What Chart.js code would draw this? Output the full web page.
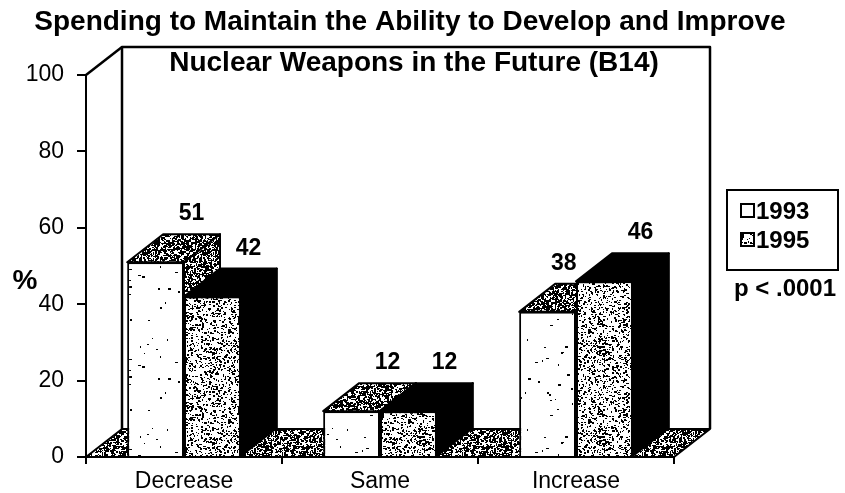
<!DOCTYPE html>
<html>
<head>
<meta charset="utf-8">
<script src="https://cdn.jsdelivr.net/npm/chart.js@4.4.1/dist/chart.umd.min.js"></script>
<style>
  html, body { margin: 0; padding: 0; background: #fff; }
  canvas { display: block; }
</style>
</head>
<body>
<canvas id="c" width="845" height="493"></canvas>
<script>
// ---- data ----
const categories = ['Decrease', 'Same', 'Increase'];
const series1993 = [51, 12, 38];
const series1995 = [42, 12, 46];
const seriesNames = ['1993', '1995'];
const yTicks = [0, 20, 40, 60, 80, 100];
const titleLines = ['Spending to Maintain the Ability to Develop and Improve',
                    'Nuclear Weapons in the Future (B14)'];
const axisTitle = '%';
const note = 'p < .0001';

// ---- look ----
const DX = 36, DY = -28;              // depth offset of the 3-D box
const FONT = '"Liberation Sans", Arial, Helvetica, sans-serif';
const canvas = document.getElementById('c');
const ctx = canvas.getContext('2d');

// small seeded generator so the stipple texture is stable between renders
function lcg(seed) {
  let s = seed >>> 0;
  return () => { s = (s * 1664525 + 1013904223) >>> 0; return s / 4294967296; };
}
function stipple(size, count, seed, maxLen) {
  const c = document.createElement('canvas');
  c.width = c.height = size;
  const g = c.getContext('2d');
  g.fillStyle = '#fff';
  g.fillRect(0, 0, size, size);
  g.fillStyle = '#000';
  const r = lcg(seed);
  for (let i = 0; i < count; i++) {
    const x = Math.floor(r() * size), y = Math.floor(r() * size);
    const w = 1 + Math.floor(r() * maxLen), h = 1 + Math.floor(r() * 1.6);
    g.fillRect(x, y, w, h);
  }
  return ctx.createPattern(c, 'repeat');
}
const patLight = stipple(90, 40, 7, 3);     // 1993 front: sparse specks
const patGray = stipple(90, 1300, 11, 2);   // 1995 front: dense grey stipple
const patDark = stipple(60, 1600, 23, 2);   // tops, sides and floor

function drawFaces(c, meta, solid) {
  c.save();
  c.lineWidth = 2;
  c.strokeStyle = '#000';
  c.lineJoin = 'round';
  meta.data.forEach(bar => {
    const p = bar.getProps(['x', 'y', 'base', 'width'], true);
    const l = p.x - p.width / 2, r = p.x + p.width / 2, t = p.y, b = p.base;
    // top face
    c.beginPath();
    c.moveTo(l, t); c.lineTo(r, t); c.lineTo(r + DX, t + DY); c.lineTo(l + DX, t + DY);
    c.closePath();
    c.fillStyle = solid ? '#000' : patDark;
    c.fill(); c.stroke();
    // side face
    c.beginPath();
    c.moveTo(r, t); c.lineTo(r + DX, t + DY); c.lineTo(r + DX, b + DY); c.lineTo(r, b);
    c.closePath();
    c.fillStyle = solid ? '#000' : patDark;
    c.fill(); c.stroke();
  });
  c.restore();
}

// 3-D box: floor, back wall, and the top/side faces of every bar
const box3d = {
  id: 'box3d',
  beforeDatasetsDraw(chart) {
    const a = chart.chartArea;
    const c = chart.ctx;
    c.save();
    c.lineWidth = 2;
    c.strokeStyle = '#000';
    c.lineJoin = 'round';
    // floor
    c.beginPath();
    c.moveTo(a.left, a.bottom);
    c.lineTo(a.right, a.bottom);
    c.lineTo(a.right + DX, a.bottom + DY);
    c.lineTo(a.left + DX, a.bottom + DY);
    c.closePath();
    c.fillStyle = patDark;
    c.fill();
    c.stroke();
    // back wall
    c.lineWidth = 2.5;
    c.beginPath();
    c.moveTo(a.left + DX, a.bottom + DY);
    c.lineTo(a.left + DX, a.top + DY);
    c.lineTo(a.right + DX, a.top + DY);
    c.lineTo(a.right + DX, a.bottom + DY);
    c.stroke();
    // depth edge above the value axis
    c.beginPath();
    c.moveTo(a.left, a.top);
    c.lineTo(a.left + DX, a.top + DY);
    c.stroke();
    c.restore();
  },
  afterDatasetDraw(chart, args) {
    // datasets are painted last-to-first; once 1993 is down, paint its depth
    // faces, then repaint the 1995 bars in front of them with their own faces
    if (args.index !== 0) return;
    const c = chart.ctx;
    drawFaces(c, args.meta, false);
    const meta95 = chart.getDatasetMeta(1);
    meta95.data.forEach(bar => bar.draw(c));
    drawFaces(c, meta95, true);
  },
  afterDraw(chart) {
    const c = chart.ctx;
    c.save();
    c.fillStyle = '#000';
    c.textAlign = 'center';
    c.textBaseline = 'middle';
    // titles
    c.font = 'bold 28px ' + FONT;
    c.fillText(titleLines[0], 410, 22);
    c.fillText(titleLines[1], 414, 63);
    // value axis title
    c.font = 'bold 28px ' + FONT;
    c.fillText(axisTitle, 25, 281);
    // value labels above the back edge of each bar top
    c.font = 'bold 23px ' + FONT;
    c.textBaseline = 'alphabetic';
    [0, 1].forEach(di => {
      const meta = chart.getDatasetMeta(di);
      const vals = chart.data.datasets[di].data;
      meta.data.forEach((bar, i) => {
        const p = bar.getProps(['x', 'y'], true);
        const next = di === 0 ? chart.data.datasets[1].data[i] : -Infinity;
        const shift = next > vals[i] ? DX * 0.45 : DX;
        c.fillText(String(vals[i]), p.x + shift, p.y + DY - 14);
      });
    });
    // legend
    c.lineWidth = 2;
    c.strokeStyle = '#000';
    c.strokeRect(727, 190, 111, 80);
    const items = [{fill: '#fff', y: 211}, {fill: patGray, y: 240}];
    c.font = 'bold 24px ' + FONT;
    c.textAlign = 'left';
    c.textBaseline = 'middle';
    items.forEach((it, i) => {
      c.fillStyle = it.fill;
      c.fillRect(741, it.y - 7, 13, 13);
      c.strokeRect(741, it.y - 7, 13, 13);
      c.fillStyle = '#000';
      c.fillText(seriesNames[i], 756, it.y + 1);
    });
    c.textAlign = 'center';
    c.fillText(note, 785, 289);
    c.restore();
  }
};

new Chart(ctx, {
  type: 'bar',
  data: {
    labels: categories,
    datasets: [
      { label: seriesNames[0], data: series1993, backgroundColor: patLight,
        borderColor: '#000', borderWidth: 2,
        categoryPercentage: 0.58, barPercentage: 1 },
      { label: seriesNames[1], data: series1995, backgroundColor: patGray,
        borderColor: '#000', borderWidth: 2,
        categoryPercentage: 0.58, barPercentage: 1 }
    ]
  },
  options: {
    responsive: false,
    animation: false,
    devicePixelRatio: 1,
    layout: { padding: { left: 0, right: 171, top: 75, bottom: 0 } },
    plugins: { legend: { display: false }, tooltip: { enabled: false }, title: { display: false } },
    scales: {
      x: {
        offset: true,
        grid: { offset: true, drawOnChartArea: false, tickLength: 7, color: '#000', lineWidth: 2 },
        border: { display: true, color: '#000', width: 2 },
        ticks: { color: '#000', font: { family: FONT, size: 23 }, padding: 4, maxRotation: 0 },
        afterFit(s) { s.height = 36; }
      },
      y: {
        min: 0, max: 100,
        afterBuildTicks(s) { s.ticks = yTicks.map(v => ({ value: v })); },
        grid: { drawOnChartArea: false, tickLength: 9, color: '#000', lineWidth: 2 },
        border: { display: true, color: '#000', width: 2 },
        ticks: { color: '#000', font: { family: FONT, size: 23 }, padding: 13 },
        afterFit(s) { s.width = 86; }
      }
    }
  },
  plugins: [box3d]
});
</script>
</body>
</html>
